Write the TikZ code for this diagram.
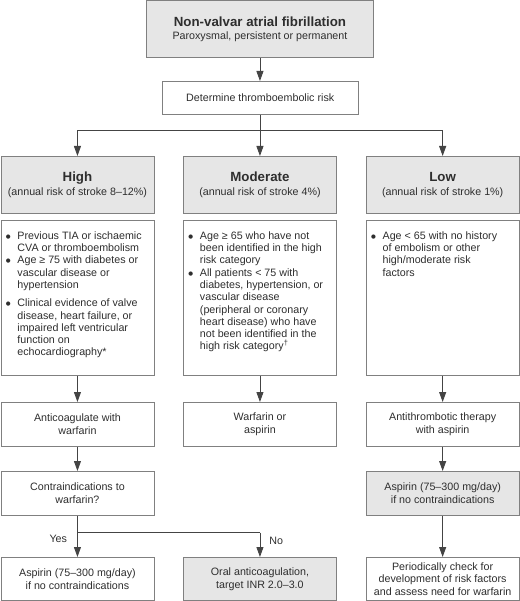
\documentclass[tikz,border=0pt]{standalone}
\usepackage{fontspec}
\setmainfont{Liberation Sans}
\newfontfamily\dejavu{DejaVu Sans}
\usetikzlibrary{arrows.meta}
\definecolor{boxgray}{HTML}{E6E6E6}
\definecolor{linegray}{HTML}{808080}
\definecolor{txt}{HTML}{2E2E2E}
\definecolor{arr}{HTML}{444444}
\newcommand{\bdot}{\raisebox{0.9pt}{\dejavu\fontsize{5.5}{5.5}\selectfont ●}}
\newcommand{\bulletbox}[1]{\begin{minipage}[c][133.5pt][t]{143pt}\fontsize{10.7}{12.3}\selectfont\raggedright
\begin{list}{\bdot}{\setlength{\leftmargin}{11.5pt}\setlength{\labelwidth}{11.5pt}\setlength{\labelsep}{0pt}\setlength{\itemsep}{0pt}\setlength{\parsep}{0pt}\setlength{\topsep}{0pt}\setlength{\partopsep}{0pt}\renewcommand{\makelabel}[1]{##1\hfil}}#1\end{list}\end{minipage}}
\begin{document}
\begin{tikzpicture}[x=1pt,y=-1pt,
  basebox/.style={draw=linegray, line width=0.9pt, fill=white, inner sep=0pt, text=txt, anchor=north west, font=\fontsize{10.7}{12.6}\selectfont},
  box/.style={basebox, align=center},
  shaded/.style={box, fill=boxgray},
  colbox/.style={minimum width=153pt},
  arrowline/.style={draw=arr, line width=0.9pt, -{Triangle[length=10pt,width=7pt]}},
  plainline/.style={draw=arr, line width=0.9pt},
  lbl/.style={text=txt, inner sep=0pt, font=\fontsize{10.7}{12.6}\selectfont}
]
\useasboundingbox (0,0) rectangle (519,601);

% top
\node[shaded, minimum width=227pt, minimum height=56.5pt] (af) at (146,0.5)
  {{\fontsize{13.3}{15}\selectfont\bfseries Non-valvar atrial fibrillation}\\Paroxysmal, persistent or permanent};
\node[box, minimum width=195.5pt, minimum height=32.7pt] (det) at (162,81) {Determine thromboembolic risk};

% headers
\node[shaded, colbox, minimum height=57pt] (high) at (0.5,156)
  {{\fontsize{13.3}{15}\selectfont\bfseries High}\\[1.5pt](annual risk of stroke 8--12\%)};
\node[shaded, colbox, minimum height=57pt] (mod) at (183,156)
  {{\fontsize{13.3}{15}\selectfont\bfseries Moderate}\\[1.5pt](annual risk of stroke 4\%)};
\node[shaded, colbox, minimum height=57pt] (low) at (365.7,156)
  {{\fontsize{13.3}{15}\selectfont\bfseries Low}\\[1.5pt](annual risk of stroke 1\%)};

% bullet boxes
\node[basebox, colbox, minimum height=154.5pt] (highb) at (0.5,220.5) {\bulletbox{%
\item Previous TIA or ischaemic\newline CVA or thromboembolism
\item Age ≥ 75 with diabetes or\newline vascular disease or\newline hypertension
\vspace{6pt}
\item Clinical evidence of valve\newline disease, heart failure, or\newline impaired left ventricular\newline function on\newline echocardiography*}};
\node[basebox, colbox, minimum height=154.5pt] (modb) at (183,220.5) {\bulletbox{%
\item Age ≥ 65 who have not\newline been identified in the high\newline risk category
\item All patients < 75 with\newline diabetes, hypertension, or\newline vascular disease\newline (peripheral or coronary\newline heart disease) who have\newline not been identified in the\newline high risk category\textsuperscript{†}}};
\node[basebox, colbox, minimum height=154.5pt] (lowb) at (365.7,220.5) {\bulletbox{%
\item Age < 65 with no history\newline of embolism or other\newline high/moderate risk\newline factors}};

% row 3
\node[box, colbox, minimum height=44pt] (anti) at (0.5,402) {Anticoagulate with\\warfarin};
\node[box, colbox, minimum height=44pt] (warf) at (183,402) {Warfarin or\\aspirin};
\node[box, colbox, minimum height=44pt] (antith) at (365.7,402) {Antithrombotic therapy\\with aspirin};

% row 4
\node[box, colbox, minimum height=44pt] (contra) at (0.5,471) {Contraindications to\\warfarin?};
\node[shaded, colbox, minimum height=44pt] (asp2) at (365.7,471) {Aspirin (75--300 mg/day)\\if no contraindications};

% row 5
\node[box, colbox, minimum height=43pt] (asp1) at (0.5,557) {Aspirin (75--300 mg/day)\\if no contraindications};
\node[shaded, colbox, minimum height=43pt] (oral) at (183,557) {Oral anticoagulation,\\target INR 2.0--3.0};
\node[box, colbox, minimum height=43pt] (check) at (365.7,557) {Periodically check for\\development of risk factors\\and assess need for warfarin};

% connectors
\draw[arrowline] (af) -- (af.south |- det.north);
\path (det.south) ++(0,16) coordinate (split);
\draw[plainline] (det.south) -- (split);
\draw[arrowline] (split) -| (high);
\draw[arrowline] (split) -| (low);
\draw[arrowline] (mod.north |- split) -- (mod);

\draw[arrowline] (highb) -- (anti);
\draw[arrowline] (modb) -- (warf);
\draw[arrowline] (lowb) -- (antith);
\draw[arrowline] (anti) -- (contra);
\draw[arrowline] (antith) -- (asp2);
\draw[arrowline] (asp2) -- (check);

\path (contra.south) ++(0,16.7) coordinate (yn);
\draw[arrowline] (contra) -- node[lbl, anchor=east, pos=0.57, xshift=-10pt] (yes) {Yes} (asp1);
\draw[plainline] (yn) -- (yn -| oral.north);
\draw[arrowline] (yn -| oral.north) -- node[lbl, anchor=west, pos=0.35, xshift=9pt] (no) {No} (oral);
\end{tikzpicture}
\end{document}
